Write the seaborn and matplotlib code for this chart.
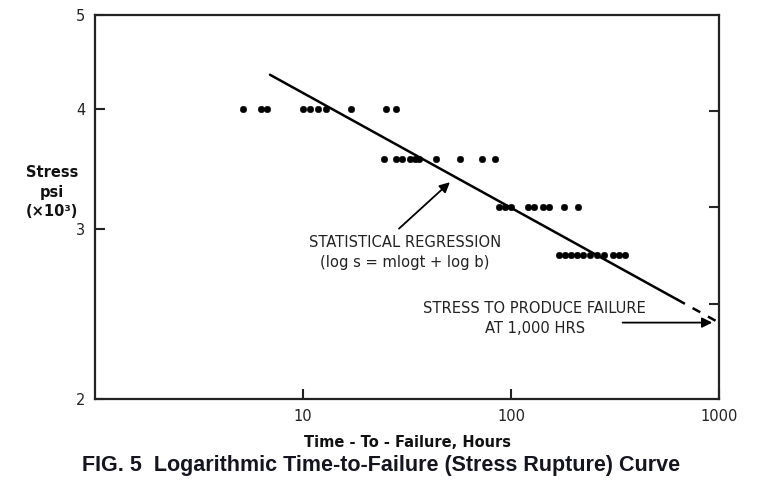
import numpy as np
import pandas as pd
import matplotlib
matplotlib.use('Agg')
import matplotlib.pyplot as plt
from matplotlib.ticker import FixedLocator, FixedFormatter, NullFormatter, NullLocator
import seaborn as sns

# Stress levels (x10^3 psi) and failure times (hours)
stress_4000 = [5.15, 6.3, 6.7, 10.0, 10.8, 11.8, 12.9, 17.0, 25.1, 28.0]
stress_3550 = [24.5, 28.0, 29.9, 32.7, 34.5, 36.1, 43.6, 56.9, 72.5, 83.8]
stress_3160 = [87.6, 93.6, 100, 120.7, 129, 142.5, 152, 180, 210]
stress_2820 = [170, 182, 194, 208, 222, 240, 259, 280, 309, 331, 353]
levels = [4.0, 3.55, 3.16, 2.82]

# regression: log s = m log t + log b
slope_m = -0.119
coef_b = 5.46
fit_t_solid = [6.94, 630]
fit_t_dash = [630, 1000]

y_ticks = [2, 3, 4, 5]
y_right_ticks = [2.51, 3.16, 3.98]
x_ticks = [10, 100, 1000]

rows = []
for lvl, times in zip(levels, [stress_4000, stress_3550, stress_3160, stress_2820]):
    for t in times:
        rows.append({'hours': t, 'stress': lvl})
df = pd.DataFrame(rows)

def fit(ts):
    ts = np.array(ts, dtype=float)
    return pd.DataFrame({'hours': ts, 'stress': coef_b * ts ** slope_m})

sns.set_theme(style="white")
plt.rcParams['font.family'] = ['DejaVu Sans']

fig = plt.figure(figsize=(7.68, 4.94), dpi=100)
ax = fig.add_axes([0.1237, 0.1923, 0.8125, 0.7773])

sns.scatterplot(data=df, x='hours', y='stress', color='black', s=22, edgecolor=None, ax=ax, zorder=3)
sns.lineplot(data=fit(fit_t_solid), x='hours', y='stress', color='black', linewidth=1.8, ax=ax)
sns.lineplot(data=fit(fit_t_dash), x='hours', y='stress', color='black', linewidth=1.8,
             linestyle=(0, (3.5, 3.5)), ax=ax)

ax.set_xscale('log')
ax.set_yscale('log')
ax.set_xlim(1, 1000)
ax.set_ylim(2, 5)

ax.xaxis.set_major_locator(FixedLocator(x_ticks))
ax.xaxis.set_major_formatter(FixedFormatter([str(v) for v in x_ticks]))
ax.xaxis.set_minor_locator(NullLocator())
ax.yaxis.set_major_locator(FixedLocator(y_ticks))
ax.yaxis.set_major_formatter(FixedFormatter([str(v) for v in y_ticks]))
ax.yaxis.set_minor_locator(FixedLocator(y_right_ticks))
ax.yaxis.set_minor_formatter(NullFormatter())

ax.tick_params(axis='both', which='major', direction='in', length=7, width=1.5,
               labelsize=10.5, colors='#222222', pad=7)
ax.tick_params(axis='y', which='major', left=True, right=False)
ax.tick_params(axis='y', which='minor', direction='in', length=7, width=1.5, left=False, right=True)
ax.tick_params(axis='x', which='major', bottom=True, top=False)

for sp in ax.spines.values():
    sp.set_color('#222222')
    sp.set_linewidth(1.6)

ax.set_xlabel('Time - To - Failure, Hours', fontsize=10.5, fontweight='bold', labelpad=8, color='#111111')
ax.set_ylabel('')

fig.text(0.068, 0.611, 'Stress\npsi\n(×10³)', ha='center', va='center', fontsize=10.5,
         fontweight='bold', color='#111111', linespacing=1.35)

ax.text(30.9, 2.835, 'STATISTICAL REGRESSION\n(log s = mlogt + log b)', ha='center', va='center',
        fontsize=11.8, fontstretch='condensed', color='#222222', linespacing=1.4)
ax.annotate('', xy=(52.0, 3.37), xytext=(28.3, 2.99),
            arrowprops=dict(arrowstyle='-|>', color='black', lw=1.3, mutation_scale=15))

ax.text(130, 2.425, 'STRESS TO PRODUCE FAILURE\nAT 1,000 HRS', ha='center', va='center',
        fontsize=11.8, fontstretch='condensed', color='#222222', linespacing=1.4)
ax.annotate('', xy=(957, 2.40), xytext=(334, 2.40),
            arrowprops=dict(arrowstyle='-|>', color='black', lw=1.3, mutation_scale=15))

fig.text(0.496, 0.0587, 'FIG. 5  Logarithmic Time-to-Failure (Stress Rupture) Curve', ha='center',
         va='center', fontsize=15.5, fontweight='bold', family=['Liberation Sans', 'DejaVu Sans'],
         color='#15151f')

fig.savefig('out.png', dpi=100)
